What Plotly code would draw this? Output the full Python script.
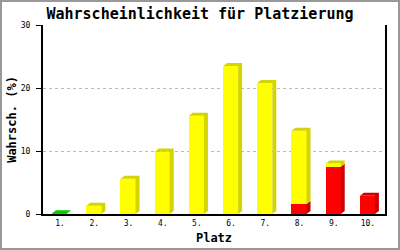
import plotly.graph_objects as go

# ---- data ----
places = ["1.", "2.", "3.", "4.", "5.", "6.", "7.", "8.", "9.", "10."]
red_vals = [0, 0, 0, 0, 0, 0, 0, 1.6, 7.5, 2.9]
yellow_vals = [0, 1.3, 5.6, 9.9, 15.6, 23.5, 20.8, 11.6, 0.5, 0]
green_vals = [0.1, 0, 0, 0, 0, 0, 0, 0, 0, 0]
y_ticks = [0, 10, 20, 30]

# ---- styling ----
FRONT = {"red": "#FF0000", "yellow": "#FFFF00", "green": "#00DD00"}
SIDE = {"red": "#CC0000", "yellow": "#D4D400", "green": "#00CC00"}
BAR_W = 0.44
SHIFT = -0.015
DX = 0.117   # 3D depth in x data units
DY = 0.48    # 3D depth in y data units

series = [("red", red_vals), ("yellow", yellow_vals), ("green", green_vals)]
xs = list(range(len(places)))

fig = go.Figure()

# front faces
for name, vals in series:
    fig.add_trace(go.Bar(
        x=[x + SHIFT for x in xs], y=vals, width=BAR_W,
        marker=dict(color=FRONT[name], line=dict(width=0)),
        showlegend=False, hoverinfo="skip"))

# 3D side / top faces
poly = {k: ([], []) for k in FRONT}
totals = [sum(v[i] for _, v in series) for i in xs]
for i in xs:
    base = 0.0
    for name, vals in series:
        v = vals[i]
        if v <= 0:
            continue
        top = base + v
        L = i + SHIFT - BAR_W / 2
        R = i + SHIFT + BAR_W / 2
        px, py = poly[name]
        px += [R, R + DX, R + DX, R, R, None]
        py += [base, base + DY, top + DY, top, base, None]
        if abs(top - totals[i]) < 1e-9:
            px += [L, L + DX, R + DX, R, L, None]
            py += [top, top + DY, top + DY, top, top, None]
        base = top

for name in FRONT:
    px, py = poly[name]
    if px:
        fig.add_trace(go.Scatter(
            x=px, y=py, mode="lines", fill="toself",
            fillcolor=SIDE[name], line=dict(width=0, color=SIDE[name]),
            showlegend=False, hoverinfo="skip"))

MONO = "DejaVu Sans Mono"
fig.update_layout(
    width=400, height=250,
    margin=dict(l=43, r=15, t=25, b=36, autoexpand=False),
    paper_bgcolor="white", plot_bgcolor="white",
    barmode="stack", bargap=0,
    title=dict(text="Wahrscheinlichkeit für Platzierung",
               font=dict(family=MONO, size=15, color="black", weight="bold"),
               x=0.5, xanchor="center", y=1 - 14 / 250, yanchor="middle",
               xref="container", yref="container", automargin=False),
    xaxis=dict(range=[-0.5, 9.5], tickvals=xs, ticktext=places,
               showgrid=False, zeroline=False, showline=True, automargin=False,
               linecolor="black", linewidth=2, ticks="",
               tickfont=dict(family=MONO, size=8, color="black"),
               title=dict(text="Platz", standoff=7,
                          font=dict(family=MONO, size=12, color="black", weight="bold"))),
    yaxis=dict(range=[0, 30], tickvals=y_ticks, automargin=False,
               showgrid=True, gridcolor="#BBBBBB", griddash="3px,3px", gridwidth=1,
               zeroline=False, showline=True, mirror=True,
               linecolor="black", linewidth=2,
               ticks="outside", ticklen=5, tickcolor="black", tickwidth=1,
               ticklabelstandoff=4,
               tickfont=dict(family=MONO, size=8, color="black"),
               title=dict(text="Wahrsch. (%)", standoff=2,
                          font=dict(family=MONO, size=12, color="black", weight="bold"))),
    shapes=[dict(type="rect", xref="paper", yref="paper",
                 x0=-42 / 342, x1=1 + 14 / 342,
                 y0=-35 / 189, y1=1 + 24 / 189,
                 line=dict(color="#999999", width=2), fillcolor="rgba(0,0,0,0)",
                 layer="below")],
)

fig.write_html("out.html")
